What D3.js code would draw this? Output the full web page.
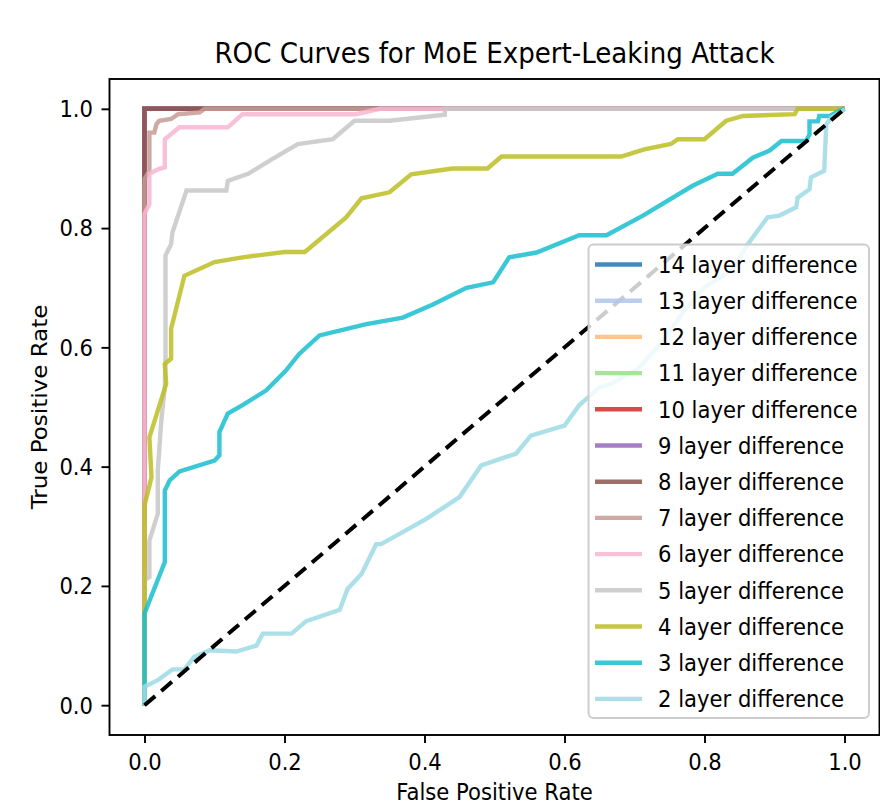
<!DOCTYPE html>
<html>
<head>
<meta charset="utf-8">
<script src="https://cdn.jsdelivr.net/npm/d3@7"></script>
<style>
  body { margin: 0; background: #fff; }
  svg { display: block; }
  text { font-family: "DejaVu Sans", sans-serif; fill: #000; }
</style>
</head>
<body>
<svg id="chart" width="880" height="803"></svg>
<script>
// ROC curves, one per layer difference: [false positive rate, true positive rate]
const curve14 = [[0, 0], [0, 1], [1, 1]];
const curve13 = [[0, 0], [0, 1], [1, 1]];
const curve12 = [[0, 0], [0, 1], [1, 1]];
const curve11 = [[0, 0], [0, 1], [1, 1]];
const curve10 = [[0, 0], [0, 1], [1, 1]];
const curve9  = [[0, 0], [0, 1], [1, 1]];
const curve8  = [[0, 0], [0, 1], [1, 1]];
const curve7  = [[0, 0], [0, 0.882], [0.007, 0.896], [0.007, 0.96], [0.014, 0.96], [0.017, 0.974],
                 [0.021, 0.98], [0.038, 0.983], [0.048, 0.991], [0.079, 0.994], [0.086, 1], [1, 1]];
const curve6  = [[0, 0], [0, 0.824], [0.007, 0.84], [0.007, 0.891], [0.02, 0.899], [0.029, 0.902],
                 [0.029, 0.949], [0.05, 0.969], [0.119, 0.969], [0.14, 0.991], [0.302, 0.991],
                 [0.336, 1], [1, 1]];
const curve5  = [[0, 0], [0, 0.21], [0.007, 0.215], [0.007, 0.276], [0.019, 0.321], [0.019, 0.394],
                 [0.024, 0.477], [0.029, 0.533], [0.03, 0.583], [0.03, 0.754], [0.038, 0.773],
                 [0.04, 0.793], [0.06, 0.863], [0.117, 0.863], [0.119, 0.879], [0.148, 0.891],
                 [0.183, 0.916], [0.219, 0.941], [0.269, 0.949], [0.3, 0.98], [0.35, 0.98],
                 [0.429, 0.99], [0.429, 1], [1, 1]];
const curve4  = [[0, 0], [0, 0.335], [0.01, 0.382], [0.007, 0.449], [0.031, 0.539], [0.029, 0.572],
                 [0.038, 0.581], [0.038, 0.631], [0.057, 0.72], [0.1, 0.743], [0.14, 0.751],
                 [0.2, 0.76], [0.229, 0.76], [0.288, 0.818], [0.31, 0.85], [0.35, 0.86],
                 [0.381, 0.89], [0.44, 0.9], [0.49, 0.9], [0.51, 0.92], [0.681, 0.92],
                 [0.714, 0.932], [0.752, 0.941], [0.762, 0.949], [0.8, 0.949], [0.831, 0.98],
                 [0.855, 0.988], [0.929, 0.991], [0.933, 1], [1, 1]];
const curve3  = [[0, 0], [0, 0.154], [0.029, 0.24], [0.029, 0.36], [0.036, 0.377], [0.05, 0.392],
                 [0.1, 0.41], [0.107, 0.419], [0.107, 0.458], [0.119, 0.489], [0.14, 0.503],
                 [0.174, 0.528], [0.202, 0.561], [0.221, 0.589], [0.25, 0.62], [0.317, 0.639],
                 [0.369, 0.65], [0.412, 0.672], [0.46, 0.7], [0.498, 0.709], [0.521, 0.751],
                 [0.56, 0.759], [0.621, 0.788], [0.66, 0.788], [0.712, 0.821], [0.783, 0.871],
                 [0.819, 0.891], [0.84, 0.891], [0.869, 0.918], [0.893, 0.93], [0.91, 0.946],
                 [0.945, 0.946], [0.95, 0.957], [0.95, 0.979], [0.962, 0.979], [0.964, 0.988],
                 [0.979, 0.988], [0.993, 0.997], [1, 1]];
const curve2  = [[0, 0], [0, 0.031], [0.019, 0.042], [0.04, 0.06], [0.057, 0.06], [0.071, 0.081],
                 [0.093, 0.092], [0.131, 0.09], [0.16, 0.1], [0.169, 0.12], [0.21, 0.12],
                 [0.231, 0.141], [0.279, 0.16], [0.29, 0.195], [0.31, 0.22], [0.331, 0.27],
                 [0.338, 0.27], [0.402, 0.312], [0.45, 0.349], [0.481, 0.402], [0.531, 0.422],
                 [0.552, 0.452], [0.6, 0.469], [0.621, 0.503], [0.65, 0.533], [0.667, 0.539],
                 [0.705, 0.564], [0.74, 0.61], [0.77, 0.66], [0.8, 0.701], [0.84, 0.73],
                 [0.86, 0.77], [0.89, 0.818], [0.907, 0.821], [0.931, 0.835], [0.933, 0.851],
                 [0.95, 0.865], [0.952, 0.885], [0.971, 0.896], [0.974, 0.974], [0.981, 0.985],
                 [0.998, 0.997], [1, 1]];

const layerDiffs = [14, 13, 12, 11, 10, 9, 8, 7, 6, 5, 4, 3, 2];
const curves = [curve14, curve13, curve12, curve11, curve10, curve9, curve8,
                curve7, curve6, curve5, curve4, curve3, curve2];
const colors = ["#1f77b4", "#aec7e8", "#ffbb78", "#98df8a", "#d62728", "#9467bd", "#8c564b",
                "#c49c94", "#f7b6d2", "#c7c7c7", "#bcbd22", "#17becf", "#9edae5"];
const chanceLine = [[0, 0], [1, 1]];
const tickValues = [0, 0.2, 0.4, 0.6, 0.8, 1.0];

const titleText = "ROC Curves for MoE Expert-Leaking Attack";
const xLabel = "False Positive Rate";
const yLabel = "True Positive Rate";

// layout
const SX = 0.92;           // horizontal text compression
const FS = 23;             // base font size
const svg = d3.select("#chart");
const pLeft = 109.5, pRight = 879.5, pTop = 79, pBottom = 735;

const x = d3.scaleLinear().domain([-0.05, 1.05]).range([pLeft, pRight]);
const y = d3.scaleLinear().domain([-0.05, 1.05]).range([pBottom, pTop]);

const plot = svg.append("g");
const line = d3.line().x(d => x(d[0])).y(d => y(d[1]));

curves.forEach((c, i) => {
  plot.append("path")
    .datum(c)
    .attr("d", line)
    .attr("fill", "none")
    .attr("stroke", colors[i])
    .attr("stroke-opacity", 0.85)
    .attr("stroke-width", 4.4)
    .attr("stroke-linejoin", "miter");
});

plot.append("path")
  .datum(chanceLine)
  .attr("d", line)
  .attr("fill", "none")
  .attr("stroke", "#000")
  .attr("stroke-width", 4)
  .attr("stroke-dasharray", "14,8");

// frame
svg.append("rect")
  .attr("x", pLeft).attr("y", pTop)
  .attr("width", pRight - pLeft).attr("height", pBottom - pTop)
  .attr("fill", "none").attr("stroke", "#000").attr("stroke-width", 1.9);

// axes
const xAxis = svg.append("g")
  .attr("transform", `translate(0,${pBottom})`)
  .call(d3.axisBottom(x).tickValues(tickValues).tickFormat(d3.format(".1f")).tickSize(8).tickSizeOuter(0));
const yAxis = svg.append("g")
  .attr("transform", `translate(${pLeft},0)`)
  .call(d3.axisLeft(y).tickValues(tickValues).tickFormat(d3.format(".1f")).tickSize(8).tickSizeOuter(0));

[xAxis, yAxis].forEach(a => {
  a.select(".domain").remove();
  a.selectAll(".tick line").attr("stroke", "#000").attr("stroke-width", 1.9);
  a.selectAll(".tick text")
    .attr("font-family", "DejaVu Sans").attr("font-size", FS).attr("fill", "#000");
});
xAxis.selectAll(".tick text").attr("y", 19).attr("dy", "0.71em")
  .attr("transform", `scale(${SX},1)`);
yAxis.selectAll(".tick text").attr("x", -16.5 / SX).attr("dy", "0.34em")
  .attr("transform", `scale(${SX},1)`);

// title and axis labels
svg.append("text")
  .attr("transform", `translate(${(pLeft + pRight) / 2},63) scale(0.95,1)`)
  .attr("text-anchor", "middle").attr("font-size", 27.5)
  .text(titleText);
svg.append("text")
  .attr("transform", `translate(${x(0.5)},800) scale(${SX},1)`)
  .attr("text-anchor", "middle").attr("font-size", FS)
  .text(xLabel);
svg.append("text")
  .attr("transform", `translate(47,${(pTop + pBottom) / 2}) rotate(-90) scale(1,${SX})`)
  .attr("text-anchor", "middle").attr("font-size", FS)
  .text(yLabel);

// legend
const lg = svg.append("g");
lg.append("rect")
  .attr("x", 588.5).attr("y", 244.5).attr("width", 280.5).attr("height", 473.5)
  .attr("rx", 5).attr("fill", "#fff").attr("fill-opacity", 0.8)
  .attr("stroke", "#cccccc").attr("stroke-width", 1.9);
const rowH = 36.2, row0 = 264.5;
layerDiffs.forEach((d, i) => {
  const cy = row0 + i * rowH;
  lg.append("line")
    .attr("x1", 595).attr("x2", 642).attr("y1", cy).attr("y2", cy)
    .attr("stroke", colors[i]).attr("stroke-opacity", 0.85).attr("stroke-width", 4.4);
  lg.append("text")
    .attr("transform", `translate(658,${cy}) scale(${SX},1)`)
    .attr("dy", "0.36em").attr("font-size", FS)
    .text(`${d} layer difference`);
});
</script>
</body>
</html>
